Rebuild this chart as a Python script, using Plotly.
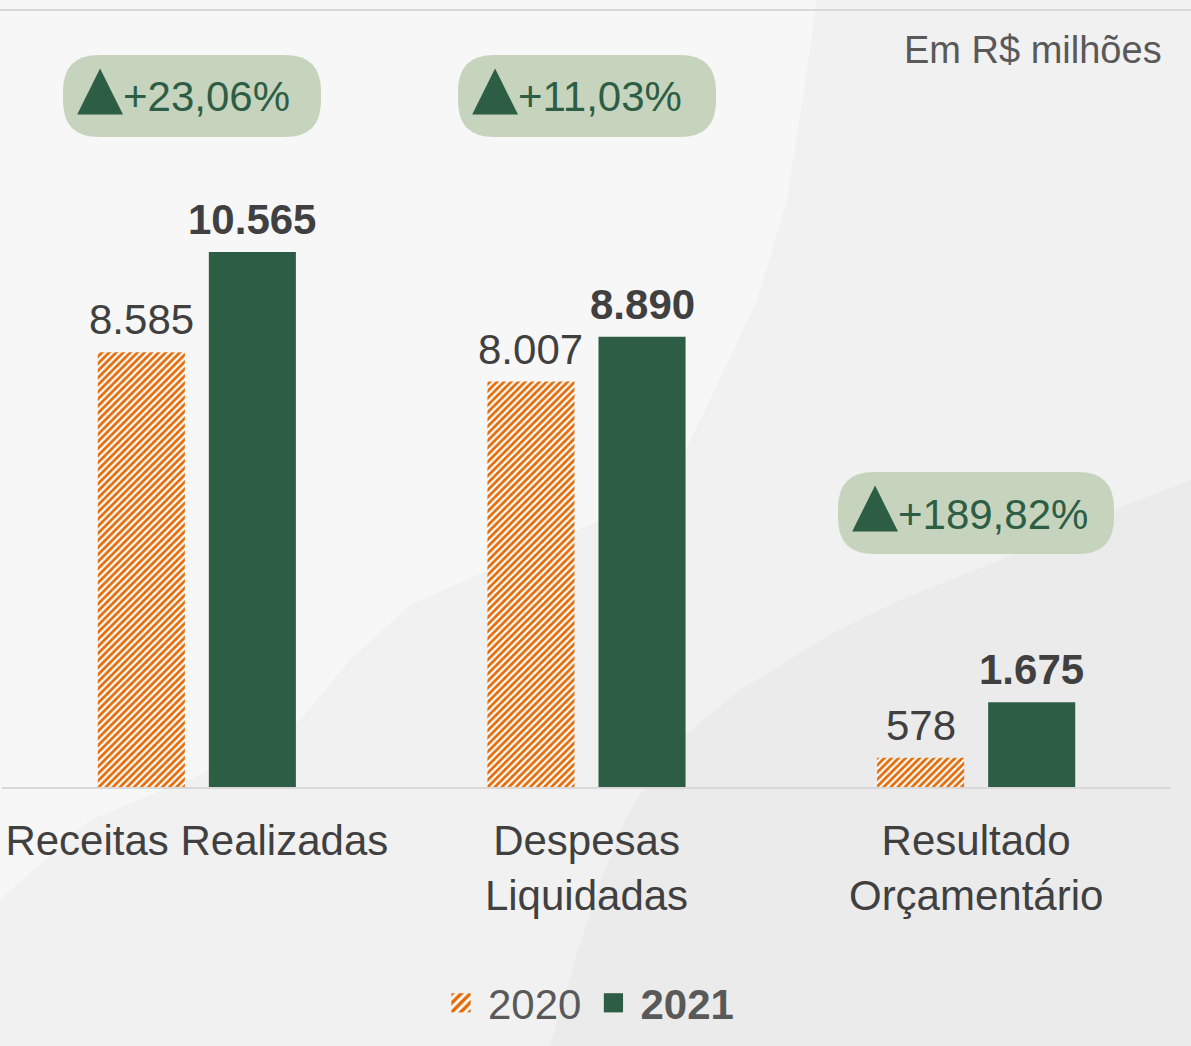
import plotly.graph_objects as go

categories = ["Receitas Realizadas", "Despesas<br>Liquidadas", "Resultado<br>Orçamentário"]
values_2020 = [8585, 8007, 578]
values_2021 = [10565, 8890, 1675]
series_names = ["2020", "2021"]
variation_labels = ["+23,06%", "+11,03%", "+189,82%"]
unit_label = "Em R$ milhões"

W, H = 1191, 1046
ML, MR, MT, MB = 2, 20, 0, 259
PW = W - ML - MR
PH = H - MT - MB
GREEN = "#2d5e45"
ORANGE = "#e36c0a"
FONT = "Liberation Sans, Arial, sans-serif"
BARGAP, GROUPGAP = 0.43, 0.216


def px(X):
    return (X - ML) / PW


def py(Y):
    return (H - MB - Y) / PH


def rounded_rect(w, h, r):
    a, b = w / 2, h / 2
    return (f"M {-a + r},{-b} L {a - r},{-b} Q {a},{-b} {a},{-b + r} "
            f"L {a},{b - r} Q {a},{b} {a - r},{b} L {-a + r},{b} "
            f"Q {-a},{b} {-a},{b - r} L {-a},{-b + r} Q {-a},{-b} {-a + r},{-b} Z")


def poly_path(pts):
    return "M " + " L ".join(f"{px(x):.5f},{py(y):.5f}" for x, y in pts) + " Z"


fig = go.Figure()
fig.add_trace(go.Bar(
    name=series_names[0], x=categories, y=values_2020,
    marker=dict(color="white", line=dict(width=0),
                pattern=dict(shape="/", fgcolor=ORANGE, bgcolor="white", fgopacity=1,
                             size=5, solidity=0.55, fillmode="replace")),
    hoverinfo="skip",
))
fig.add_trace(go.Bar(
    name="<b>" + series_names[1] + "</b>", x=categories, y=values_2021,
    marker=dict(color=GREEN, line=dict(width=0)),
    hoverinfo="skip",
))

ymax = 10565 * PH / 535.0

shapes = []
# background regions
shapes.append(dict(type="path", xref="paper", yref="paper",
                   path=poly_path([(0, 0), (W, 0), (W, H), (0, H)]),
                   fillcolor="#f1f1f1", line=dict(width=0), layer="below"))
light_pts = [(0, 0), (817, 0), (807, 70), (787, 200), (757, 300), (710, 400), (677, 467),
             (600, 520), (500, 565), (410, 605), (350, 660), (300, 720), (200, 775),
             (90, 820), (0, 900)]
shapes.append(dict(type="path", xref="paper", yref="paper", path=poly_path(light_pts),
                   fillcolor="#f7f7f7", line=dict(width=0), layer="below"))
dark_pts = [(W, 480), (1100, 515), (1000, 560), (900, 600), (833, 633), (740, 690), (667, 750),
            (625, 820), (600, 883), (575, 960), (550, H), (W, H)]
shapes.append(dict(type="path", xref="paper", yref="paper", path=poly_path(dark_pts),
                   fillcolor="#ebebeb", line=dict(width=0), layer="below"))
# top rule
shapes.append(dict(type="line", xref="paper", yref="paper", x0=px(0), x1=px(W), y0=py(10), y1=py(10),
                   line=dict(color="#d9d9d9", width=2), layer="below"))

pills = [(63, 96, 258), (458, 96, 258), (838, 513, 276)]  # left edge, center y, width
annotations = []
for (left, cy, w), lab in zip(pills, variation_labels):
    shapes.append(dict(type="path", xref="paper", yref="paper", xsizemode="pixel", ysizemode="pixel",
                       xanchor=px(left + w / 2), yanchor=py(cy), path=rounded_rect(w, 82, 36),
                       fillcolor="#c7d4bd", line=dict(width=0), layer="below"))
    annotations.append(dict(xref="paper", yref="paper", x=px(left + 12), y=py(cy + 27), xanchor="left",
                            yanchor="bottom", text="▲", showarrow=False,
                            font=dict(size=60, color=GREEN, family="DejaVu Sans")))
    annotations.append(dict(xref="paper", yref="paper", x=px(left + 58), y=py(cy + 1), xanchor="left",
                            yanchor="middle", text=lab, showarrow=False,
                            font=dict(size=42, color=GREEN, family=FONT)))

# value labels above bars
slot = (PW / len(categories)) * (1 - BARGAP) / 2
for vals, offset, bold in [(values_2020, -slot / 2, False), (values_2021, slot / 2, True)]:
    for c, v in zip(categories, vals):
        t = f"{v:,}".replace(",", ".")
        if bold:
            t = "<b>" + t + "</b>"
        annotations.append(dict(x=c, y=v, xref="x", yref="y", xshift=offset, yshift=7,
                                xanchor="center", yanchor="bottom", text=t, showarrow=False,
                                font=dict(size=42, color="#404040", family=FONT)))

annotations.append(dict(xref="paper", yref="paper", x=px(1164), y=py(50), xanchor="right", yanchor="middle",
                        text=unit_label, showarrow=False, font=dict(size=38, color="#595959", family=FONT)))

fig.update_layout(
    width=W, height=H, margin=dict(l=ML, r=MR, t=MT, b=MB),
    paper_bgcolor="#f1f1f1", plot_bgcolor="rgba(0,0,0,0)",
    barmode="group", bargap=BARGAP, bargroupgap=GROUPGAP,
    separators=",.",
    font=dict(family=FONT, color="#404040"),
    showlegend=True,
    legend=dict(orientation="h", x=0.5, xanchor="center", y=py(1003), yanchor="middle",
                font=dict(size=42, color="#595959", family=FONT), bgcolor="rgba(0,0,0,0)",
                itemwidth=44, traceorder="normal"),
    shapes=shapes, annotations=annotations,
    xaxis=dict(showline=True, linecolor="#d9d9d9", linewidth=2, ticks="", showgrid=False,
               ticklabelstandoff=16,
               tickfont=dict(size=42, color="#404040", family=FONT), fixedrange=True),
    yaxis=dict(visible=False, range=[0, ymax], showgrid=False, zeroline=False, fixedrange=True),
)

post = """
document.body.style.margin='0';
document.body.style.overflow='hidden';
document.querySelectorAll('.legendpoints path').forEach(function(p){
  var t = p.getAttribute('transform') || '';
  p.setAttribute('transform', t + ' scale(1.6)');
});
"""
fig.write_html("out.html", config={"displayModeBar": False}, post_script=post)
